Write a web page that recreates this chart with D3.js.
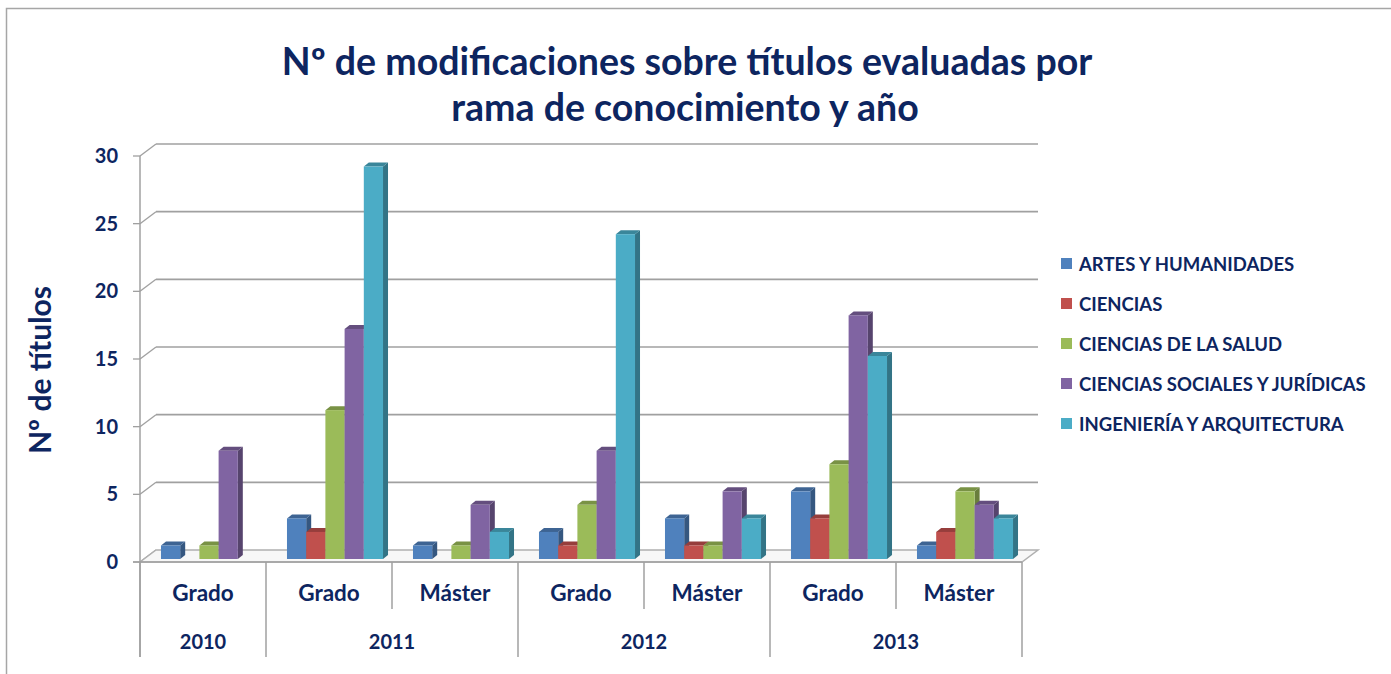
<!DOCTYPE html>
<html>
<head>
<meta charset="utf-8">
<script src="https://cdn.jsdelivr.net/npm/d3@7"></script>
<style>
  body { margin: 0; background: #fff; }
  text { font-family: Lato, "Open Sans", sans-serif; font-weight: bold; fill: #0d2560; }
</style>
</head>
<body>
<div id="chart"></div>
<script>
// data
var catTypes = ["Grado", "Grado", "Máster", "Grado", "Máster", "Grado", "Máster"];
var catYears = ["2010", "2011", "2011", "2012", "2012", "2013", "2013"];
var seriesNames = ["ARTES Y HUMANIDADES", "CIENCIAS", "CIENCIAS DE LA SALUD", "CIENCIAS SOCIALES Y JURÍDICAS", "INGENIERÍA Y ARQUITECTURA"];
var artes = [1, 3, 1, 2, 3, 5, 1];
var ciencias = [0, 2, 0, 1, 1, 3, 2];
var salud = [1, 11, 1, 4, 1, 7, 5];
var sociales = [8, 17, 4, 8, 5, 18, 4];
var ingenieria = [0, 29, 2, 24, 3, 15, 3];
var yTicks = [0, 5, 10, 15, 20, 25, 30];
var colors = ["#4f81bd", "#c0504d", "#9bbb59", "#8064a2", "#4bacc6"];

var values = [artes, ciencias, salud, sociales, ingenieria];

var width = 1391, height = 674;
var svg = d3.select("#chart").append("svg")
    .attr("width", width)
    .attr("height", height);

// outer frame
svg.append("rect")
    .attr("x", 6.5).attr("y", 8.5)
    .attr("width", 1420).attr("height", 720)
    .attr("fill", "none")
    .attr("stroke", "#a6a6a6")
    .attr("stroke-width", 1.5);

// title
svg.append("text")
    .attr("x", 687).attr("y", 75)
    .attr("text-anchor", "middle")
    .style("font-size", "37.5px")
    .text("Nº de modificaciones sobre títulos evaluadas por");
svg.append("text")
    .attr("x", 685).attr("y", 121)
    .attr("text-anchor", "middle")
    .style("font-size", "37.5px")
    .text("rama de conocimiento y año");

// scales
var x = d3.scaleBand()
    .domain(d3.range(catTypes.length))
    .range([140, 1022]);
var sx = d3.scaleBand()
    .domain(d3.range(seriesNames.length))
    .range([0, x.bandwidth()])
    .paddingOuter(0.78);
var y = d3.scaleLinear()
    .domain([0, 30])
    .range([562, 156]);

// depth of the wall and the bars
var wallDx = 16, wallDy = -12;
var barShiftX = 6, barShiftY = -3;
var barDx = 5, barDy = -4;

var grid = "#a0a0a0";

// back wall gridlines + diagonals
yTicks.forEach(function (t) {
    if (t > 0) {
        svg.append("line")
            .attr("x1", 140 + wallDx).attr("y1", y(t) + wallDy)
            .attr("x2", 1022 + wallDx).attr("y2", y(t) + wallDy)
            .attr("stroke", grid).attr("stroke-width", 1.6);
    }
    svg.append("line")
        .attr("x1", 140).attr("y1", y(t))
        .attr("x2", 140 + wallDx).attr("y2", y(t) + wallDy)
        .attr("stroke", grid).attr("stroke-width", 1.3);
    svg.append("line")
        .attr("x1", 133).attr("y1", y(t))
        .attr("x2", 140).attr("y2", y(t))
        .attr("stroke", grid).attr("stroke-width", 1.3);
    svg.append("text")
        .attr("x", 118).attr("y", y(t) + 7)
        .attr("text-anchor", "end")
        .style("font-size", "20px")
        .text(t);
});

// floor
svg.append("path")
    .attr("d", "M140," + y(0) + "L1022," + y(0) + "L" + (1022 + wallDx) + "," + (y(0) + wallDy) +
        "L" + (140 + wallDx) + "," + (y(0) + wallDy) + "Z")
    .attr("fill", "#f7f7f7")
    .attr("stroke", "#b0b0b0")
    .attr("stroke-width", 1.5);

// y axis line
svg.append("line")
    .attr("x1", 140).attr("y1", y(30))
    .attr("x2", 140).attr("y2", 657)
    .attr("stroke", grid).attr("stroke-width", 1.5);

// bars
catTypes.forEach(function (c, i) {
    values.forEach(function (vals, s) {
        var v = vals[i];
        if (!v) return;
        var x0 = x(i) + sx(s) + barShiftX;
        var x1 = x0 + sx.bandwidth();
        var yb = y(0) + barShiftY;
        var yt = y(v) + barShiftY;
        var base = d3.color(colors[s]);
        // side face
        svg.append("path")
            .attr("d", "M" + x1 + "," + yb + "L" + x1 + "," + yt + "L" + (x1 + barDx) + "," + (yt + barDy) +
                "L" + (x1 + barDx) + "," + (yb + barDy) + "Z")
            .attr("fill", base.darker(1.1));
        // top face
        svg.append("path")
            .attr("d", "M" + x0 + "," + yt + "L" + x1 + "," + yt + "L" + (x1 + barDx) + "," + (yt + barDy) +
                "L" + (x0 + barDx) + "," + (yt + barDy) + "Z")
            .attr("fill", base.darker(0.7));
        // front face
        svg.append("rect")
            .attr("x", x0).attr("y", yt)
            .attr("width", sx.bandwidth())
            .attr("height", yb - yt)
            .attr("fill", colors[s]);
    });
});

// x axis: front line and dividers
svg.append("line")
    .attr("x1", 133).attr("y1", y(0))
    .attr("x2", 1022).attr("y2", y(0))
    .attr("stroke", grid).attr("stroke-width", 1.5);

d3.range(catTypes.length + 1).forEach(function (i) {
    var xx = i < catTypes.length ? x(i) : x.range()[1];
    var yearEdge = i === 0 || i === catTypes.length || catYears[i] !== catYears[i - 1];
    svg.append("line")
        .attr("x1", xx).attr("y1", y(0))
        .attr("x2", xx).attr("y2", yearEdge ? 657 : 609)
        .attr("stroke", grid).attr("stroke-width", 1.5);
});

catTypes.forEach(function (c, i) {
    svg.append("text")
        .attr("x", x(i) + x.bandwidth() / 2).attr("y", 601)
        .attr("text-anchor", "middle")
        .style("font-size", "22.5px")
        .text(c);
});

var years = Array.from(new Set(catYears));
years.forEach(function (yr) {
    var idx = catYears.map(function (d, i) { return d === yr ? i : -1; }).filter(function (i) { return i >= 0; });
    var a = x(idx[0]), b = x(idx[idx.length - 1]) + x.bandwidth();
    svg.append("text")
        .attr("x", (a + b) / 2).attr("y", 649)
        .attr("text-anchor", "middle")
        .style("font-size", "20px")
        .text(yr);
});

// y axis title
svg.append("text")
    .attr("transform", "translate(51,370) rotate(-90)")
    .attr("text-anchor", "middle")
    .style("font-size", "30px")
    .text("Nº de títulos");

// legend
seriesNames.forEach(function (n, i) {
    var ly = 264 + i * 40;
    svg.append("rect")
        .attr("x", 1061).attr("y", ly - 6)
        .attr("width", 11).attr("height", 11)
        .attr("fill", colors[i]);
    svg.append("text")
        .attr("x", 1079).attr("y", ly + 6.5)
        .style("font-size", "18.5px")
        .text(n);
});
</script>
</body>
</html>
